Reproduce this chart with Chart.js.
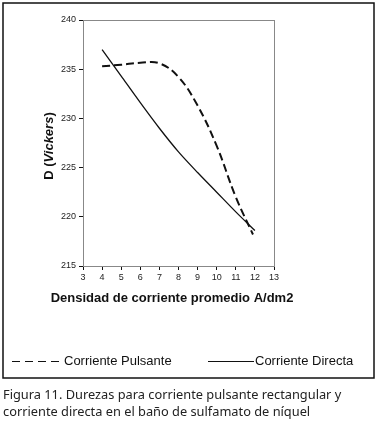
<!DOCTYPE html>
<html>
<head>
<meta charset="utf-8">
<script src="https://cdn.jsdelivr.net/npm/chart.js@4"></script>
<style>
  html, body { margin: 0; padding: 0; background: #fff; }
  #wrap { position: relative; width: 377px; height: 426px; }
  #caption {
    position: absolute; left: 3px; top: 386px; width: 372px;
    font-family: "Noto Sans", sans-serif; font-size: 12.8px; line-height: 17px; color: #222;
  }
</style>
</head>
<body>
<div id="wrap">
  <canvas id="myChart" width="377" height="426"></canvas>
  <div id="caption">Figura 11. Durezas para corriente pulsante rectangular y<br>corriente directa en el baño de sulfamato de níquel</div>
</div>
<script>
/* datos */
const densidadPulsante = [4, 5, 6, 7, 8, 9, 10, 11, 11.9];
const durezaPulsante = [235.3, 235.45, 235.65, 235.6, 234.2, 231.3, 227.2, 222.0, 218.2];
const densidadDirecta = [4, 5, 6, 7, 8, 9, 10, 11, 12];
const durezaDirecta = [237.0, 234.3, 231.6, 229.0, 226.6, 224.5, 222.5, 220.5, 218.6];
const xTicks = [3, 4, 5, 6, 7, 8, 9, 10, 11, 12, 13];
const yTicks = [215, 220, 225, 230, 235, 240];
const legendLabels = ['Corriente Pulsante', 'Corriente Directa'];
const xTitle = 'Densidad de corriente promedio A/dm2';

function puntos(xs, ys) {
  return xs.map(function(x, i) { return { x: x, y: ys[i] }; });
}

const FONT = '"Liberation Sans", Arial, sans-serif';

/* marco, titulos y leyenda */
const extras = {
  id: 'extras',
  beforeDatasetsDraw(chart) {
    const ctx = chart.ctx;
    const a = chart.chartArea;
    ctx.save();
    ctx.strokeStyle = '#888';
    ctx.lineWidth = 1;
    ctx.strokeRect(a.left + 0.5, a.top + 0.5, a.right - a.left, a.bottom - a.top);
    ctx.restore();
  },
  afterDraw(chart) {
    const ctx = chart.ctx;
    ctx.save();
    // marco exterior
    ctx.strokeStyle = '#111';
    ctx.lineWidth = 1.5;
    ctx.strokeRect(3, 3, 371, 375);

    // titulo eje x
    ctx.fillStyle = '#111';
    ctx.font = 'bold 13px ' + FONT;
    ctx.textAlign = 'center';
    ctx.textBaseline = 'middle';
    ctx.fillText(xTitle, 172, 298);
    ctx.textAlign = 'left';

    // titulo eje y: D (Vickers)
    ctx.translate(49, (chart.chartArea.top + chart.chartArea.bottom) / 2 + 3);
    ctx.rotate(-Math.PI / 2);
    const parts = [['D (', 'bold'], ['Vickers', 'italic bold'], [')', 'bold']];
    let total = 0;
    parts.forEach(function(p) {
      ctx.font = p[1] + ' 13px ' + FONT;
      total += ctx.measureText(p[0]).width;
    });
    let x = -total / 2;
    parts.forEach(function(p) {
      ctx.font = p[1] + ' 13px ' + FONT;
      ctx.fillText(p[0], x, 0);
      x += ctx.measureText(p[0]).width;
    });
    ctx.setTransform(1, 0, 0, 1, 0, 0);

    // leyenda
    ctx.font = '13px ' + FONT;
    ctx.strokeStyle = '#111';
    ctx.lineWidth = 1;
    ctx.setLineDash([8, 5]);
    ctx.beginPath();
    ctx.moveTo(12, 361.5);
    ctx.lineTo(64, 361.5);
    ctx.stroke();
    ctx.setLineDash([]);
    ctx.fillText(legendLabels[0], 64, 361);
    ctx.beginPath();
    ctx.moveTo(208, 361.5);
    ctx.lineTo(254, 361.5);
    ctx.stroke();
    ctx.fillText(legendLabels[1], 255, 361);
    ctx.restore();
  }
};

const data = {
  datasets: [{
    label: legendLabels[0],
    data: puntos(densidadPulsante, durezaPulsante),
    borderColor: '#111',
    borderWidth: 2,
    borderDash: [8, 4],
    pointRadius: 0,
    tension: 0.4,
    fill: false
  }, {
    label: legendLabels[1],
    data: puntos(densidadDirecta, durezaDirecta),
    borderColor: '#111',
    borderWidth: 1.3,
    pointRadius: 0,
    tension: 0.3,
    fill: false
  }]
};

const config = {
  type: 'line',
  data,
  options: {
    responsive: false,
    animation: false,
    layout: {
      padding: { left: 0, top: 20, right: 103, bottom: 120 }
    },
    plugins: {
      legend: { display: false },
      tooltip: { enabled: false }
    },
    scales: {
      x: {
        type: 'linear',
        min: 3,
        max: 13,
        afterBuildTicks: function(scale) {
          scale.ticks = xTicks.map(function(v) { return { value: v }; });
        },
        afterFit: function(scale) { scale.height = 40; },
        grid: { drawOnChartArea: false, drawTicks: true, tickLength: 4, color: '#111' },
        border: { color: '#111', width: 1 },
        ticks: { font: { size: 9, family: FONT }, color: '#222', padding: 2, maxRotation: 0 }
      },
      y: {
        min: 215,
        max: 240,
        afterBuildTicks: function(scale) {
          scale.ticks = yTicks.map(function(v) { return { value: v }; });
        },
        afterFit: function(scale) { scale.width = 83; },
        grid: { drawOnChartArea: false, drawTicks: true, tickLength: 4, color: '#111' },
        border: { color: '#111', width: 1 },
        ticks: { font: { size: 9, family: FONT }, color: '#222', padding: 3 }
      }
    }
  },
  plugins: [extras]
};

const myChart = new Chart(document.getElementById('myChart'), config);
</script>
</body>
</html>
